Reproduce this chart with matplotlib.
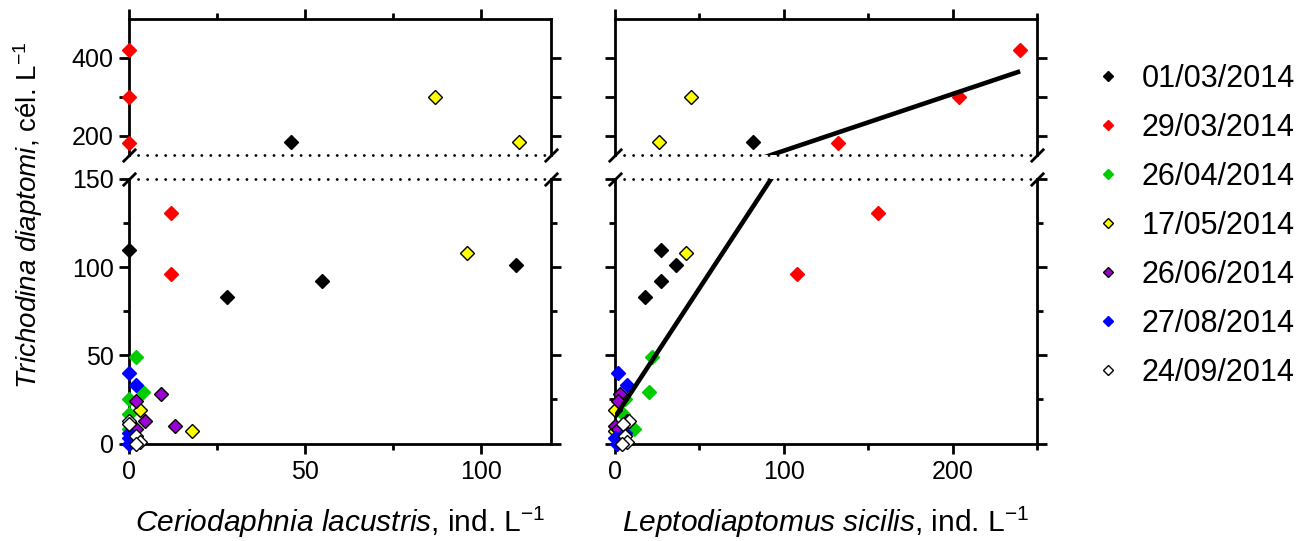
import numpy as np
import matplotlib.pyplot as plt
from matplotlib.lines import Line2D
from matplotlib.ticker import MultipleLocator

plt.rcParams['font.family'] = ['Liberation Sans', 'DejaVu Sans']
plt.rcParams['mathtext.fontset'] = 'custom'
plt.rcParams['mathtext.rm'] = 'Liberation Sans'
plt.rcParams['mathtext.it'] = 'Liberation Sans:italic'

# datas de coleta
dates = ['01/03/2014', '29/03/2014', '26/04/2014', '17/05/2014',
         '26/06/2014', '27/08/2014', '24/09/2014']
face_colors = ['#000000', '#FF0000', '#00CC00', '#FFFF00', '#9B00D3', '#0000FF', '#FFFFFF']
edge_colors = ['#000000', '#FF0000', '#00CC00', '#000000', '#000000', '#0000FF', '#000000']

# Trichodina diaptomi (cél. L-1), 5 estações por data
trichodina = [
    [184, 110, 83, 92, 101],
    [421, 299, 180, 131, 96],
    [49, 29, 25, 17, 8],
    [300, 184, 108, 19, 7],
    [28, 24, 13, 10, 8],
    [40, 33, 6, 3, 0],
    [13, 11, 4, 1, 0],
]
# Ceriodaphnia lacustris (ind. L-1)
ceriodaphnia = [
    [46, 0, 28, 55, 110],
    [0, 0, 0, 12, 12],
    [2, 4, 0, 0, 0],
    [87, 111, 96, 3, 18],
    [9, 2, 4.5, 13, 2],
    [0, 2, 0, 0, 0],
    [0, 0, 2, 3, 2],
]
# Leptodiaptomus sicilis (ind. L-1)
leptodiaptomus = [
    [82, 27, 18, 27, 36],
    [240, 204, 132, 156, 108],
    [22, 20, 6, 5, 11],
    [45, 26, 42, 0, 0],
    [3, 2, 7, 0, 2],
    [2, 7, 6, 0, 1],
    [8, 5, 6, 7, 4],
]

# reta de regressão (painel da direita)
fit_slope = 1.46
fit_intercept = 15.0

y_break = 150
y_top_max = 500

W, H = 1312, 541
fig = plt.figure(figsize=(W / 100, H / 100), dpi=100)


def px_axes(x0, y0, x1, y1):
    return fig.add_axes([x0 / W, 1 - y1 / H, (x1 - x0) / W, (y1 - y0) / H])


ax_lt = px_axes(129, 19, 551, 155)
ax_lb = px_axes(129, 179, 551, 443.5)
ax_rt = px_axes(615, 19, 1037, 155)
ax_rb = px_axes(615, 179, 1037, 443.5)

dotted = (0, (0.05, 3.2))


def style_pair(ax_t, ax_b, xmax, xmajor, xminor, show_labels):
    for ax in (ax_t, ax_b):
        ax.set_xlim(0, xmax)
        ax.xaxis.set_major_locator(MultipleLocator(xmajor))
        ax.xaxis.set_minor_locator(MultipleLocator(xminor))
        for s in ax.spines.values():
            s.set_linewidth(2)
        ax.tick_params(which='both', direction='out', width=2, labelsize=18, pad=4)
        ax.tick_params(axis='x', pad=5)
        ax.tick_params(which='major', length=7)
        ax.tick_params(which='minor', length=4)
        ax.yaxis.set_ticks_position('both')
        ax.patch.set_visible(False)

    ax_t.set_ylim(y_break, y_top_max)
    ax_t.set_yticks([200, 300, 400])
    ax_t.set_yticklabels(['200', '', '400'])
    ax_t.xaxis.set_ticks_position('top')
    ax_t.tick_params(axis='x', labeltop=False, labelbottom=False)
    sp = ax_t.spines['bottom']
    sp.set_linestyle(dotted)
    sp.set_capstyle('round')

    ax_b.set_ylim(0, y_break)
    ax_b.yaxis.set_major_locator(MultipleLocator(50))
    ax_b.yaxis.set_minor_locator(MultipleLocator(25))
    ax_b.xaxis.set_ticks_position('bottom')
    sp = ax_b.spines['top']
    sp.set_linestyle(dotted)
    sp.set_capstyle('round')

    if not show_labels:
        ax_t.tick_params(axis='y', labelleft=False)
        ax_b.tick_params(axis='y', labelleft=False)

    # marcas de quebra do eixo
    mk = dict(marker=[(-1, -1), (1, 1)], markersize=9.6, linestyle='none',
              color='k', mec='k', mew=2, clip_on=False, zorder=5)
    ax_t.plot([0, 1], [0, 0], transform=ax_t.transAxes, **mk)
    ax_b.plot([0, 1], [1, 1], transform=ax_b.transAxes, **mk)


style_pair(ax_lt, ax_lb, 120, 50, 25, True)
style_pair(ax_rt, ax_rb, 250, 100, 50, False)


def scatter_split(ax_t, ax_b, xs, ys, fc, ec):
    xs = np.asarray(xs, dtype=float)
    ys = np.asarray(ys, dtype=float)
    hi = ys > y_break
    kw = dict(linestyle='none', marker='D', markersize=7.5, mfc=fc, mec=ec,
              mew=1, clip_on=False, zorder=3)
    ax_t.plot(xs[hi], ys[hi], **kw)
    ax_b.plot(xs[~hi], ys[~hi], **kw)


for i in range(len(dates)):
    scatter_split(ax_lt, ax_lb, ceriodaphnia[i], trichodina[i], face_colors[i], edge_colors[i])
    scatter_split(ax_rt, ax_rb, leptodiaptomus[i], trichodina[i], face_colors[i], edge_colors[i])

# reta
lep_all = np.concatenate([np.asarray(v, dtype=float) for v in leptodiaptomus])
xfit = np.array([0, lep_all.max()])
yfit = fit_intercept + fit_slope * xfit
for ax in (ax_rt, ax_rb):
    ax.plot(xfit, yfit, color='k', lw=3.3, solid_capstyle='butt', zorder=4)

ax_lb.set_xlabel(r'$\it{Ceriodaphnia\ lacustris}$, ind. L$^{-1}$', fontsize=21.5, labelpad=15)
ax_rb.set_xlabel(r'$\it{Leptodiaptomus\ sicilis}$, ind. L$^{-1}$', fontsize=21.5, labelpad=15)
fig.text(28 / W, 1 - 215 / H, r'$\it{Trichodina\ diaptomi}$, cél. L$^{-1}$',
         rotation=90, ha='center', va='center', fontsize=20)

handles = [Line2D([], [], linestyle='none', marker='D', markersize=5,
                  mfc=face_colors[i], mec=edge_colors[i], mew=1)
           for i in range(len(dates))]
fig.legend(handles, dates, loc='upper left', bbox_to_anchor=(1092.5 / W, 1 - 64 / H),
           frameon=False, fontsize=22, borderpad=0, borderaxespad=0,
           handlelength=1.0, handletextpad=0.6, labelspacing=0.62)

fig.savefig('out.png', dpi=100)
